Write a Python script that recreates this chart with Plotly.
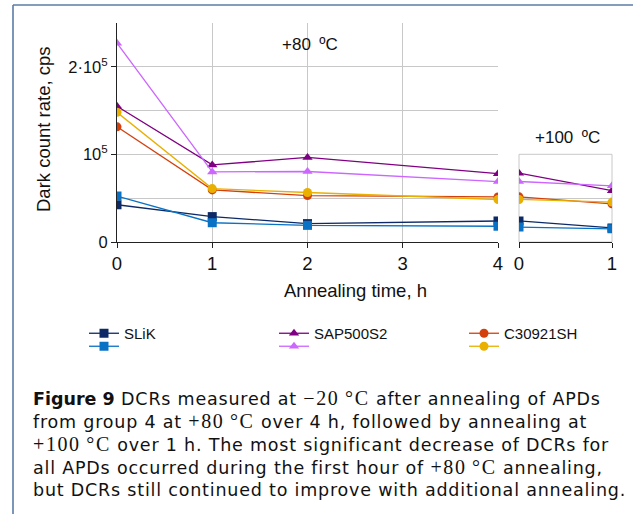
import plotly.graph_objects as go

# ---- data ----
x80 = [0, 1, 2, 4]          # hours at +80 ºC
x100 = [0, 1]               # hours at +100 ºC
series = ["SLiK", "SLiK", "SAP500S2", "SAP500S2", "C30921SH", "C30921SH"]
colors = ["#0d2a66", "#0a72c4", "#7f0082", "#cc66ff", "#d4400c", "#e9b000"]
symbols = ["square", "square", "triangle-up", "triangle-up", "circle", "circle"]
dcr80 = [
    [42500, 29000, 21000, 24000],
    [52500, 22000, 19000, 18000],
    [155000, 88000, 96500, 78000],
    [227000, 80000, 80500, 69000],
    [131500, 59500, 53000, 51500],
    [148000, 61000, 56500, 48500],
]
dcr100 = [
    [24000, 16000],
    [17000, 15000],
    [78500, 58500],
    [69000, 64000],
    [51500, 43500],
    [48500, 45500],
]
ytickvals = [0, 100000, 200000]
yticktext = ["0", "10<sup>5</sup>", "2·10<sup>5</sup>"]

W, H = 633, 514
def px(x):
    return x / W
def py(y):
    return 1 - y / H

fig = go.Figure()
for i in range(6):
    dark = (i % 2 == 0)
    fig.add_trace(go.Scatter(
        x=x80, y=dcr80[i], mode="lines+markers", xaxis="x", yaxis="y",
        line=dict(color=colors[i], width=1.3),
        marker=dict(symbol=symbols[i], size=9, color=colors[i]),
        name=series[i] if dark else " ", legend="legend" if dark else "legend2",
        hovertemplate=series[i] + ": %{y}<extra></extra>",
    ))
for i in range(6):
    fig.add_trace(go.Scatter(
        x=x100, y=dcr100[i], mode="lines+markers", xaxis="x2", yaxis="y2",
        line=dict(color=colors[i], width=1.3),
        marker=dict(symbol=symbols[i], size=9, color=colors[i]),
        showlegend=False,
        hovertemplate=series[i] + ": %{y}<extra></extra>",
    ))

FAM = "Liberation Sans, Arial, sans-serif"
xtf = dict(family=FAM, size=18.5, color="#111")
ytf = dict(family=FAM, size=16.5, color="#111")
ttl = dict(family=FAM, size=18.5, color="#111")
grid = "#c8c8c8"

legcommon = dict(orientation="h", xanchor="left", yanchor="top",
                 entrywidth=145, entrywidthmode="pixels", bgcolor="rgba(0,0,0,0)",
                 font=dict(family=FAM, size=15, color="#111"),
                 itemclick=False, itemdoubleclick=False, borderwidth=0)

fig.update_layout(
    width=W, height=H,
    margin=dict(l=0, r=0, t=0, b=0, autoexpand=False),
    paper_bgcolor="white", plot_bgcolor="white",
    font=dict(family=FAM, size=16, color="#111"),
    xaxis=dict(domain=[px(117), px(498)], range=[0, 4], tickvals=[0, 1, 2, 3, 4],
               showline=True, linecolor="#222", linewidth=1, ticks="outside",
               ticklen=5, tickcolor="#222", showgrid=True, gridcolor=grid,
               zeroline=False, tickfont=xtf, anchor="y"),
    yaxis=dict(domain=[py(242), py(23)], range=[0, 250000], tickvals=ytickvals,
               ticktext=yticktext, showline=True, linecolor="#222", linewidth=1,
               ticks="outside", ticklen=5, tickcolor="#222", showgrid=True,
               gridcolor=grid, zeroline=False, tickfont=ytf, anchor="x",
               minor=dict(tickvals=[50000, 150000], showgrid=True, gridcolor=grid,
                          ticks="")),
    xaxis2=dict(domain=[px(519), px(612)], range=[0, 1], tickvals=[0, 1],
                showline=True, linecolor="#222", linewidth=1, ticks="outside",
                ticklen=5, tickcolor="#222", showgrid=True, gridcolor=grid,
                zeroline=False, tickfont=xtf, anchor="y2"),
    yaxis2=dict(domain=[py(242), py(154.3)], range=[0, 100000],
                tickvals=[50000, 100000], showticklabels=False, showline=False,
                showgrid=True, gridcolor=grid, zeroline=False, anchor="x2"),
    legend=dict(x=px(84), y=py(317), **legcommon),
    legend2=dict(x=px(84), y=py(330), **legcommon),
    showlegend=True,
)

def note(text, x, y, font, **kw):
    d = dict(text=text, x=px(x), y=py(y), xref="paper", yref="paper",
             xanchor="center", yanchor="middle", showarrow=False, font=font)
    d.update(kw)
    return d

ann = []
lab = dict(family=FAM, size=17, color="#111")
ann.append(note("+80\u2002ºC", 310, 44, lab))
ann.append(note("+100\u2002ºC", 567, 138, lab))
ann.append(note("Dark count rate, cps", 43, 129, ttl, textangle=-90))
ann.append(note("Annealing time, h", 355, 290, ttl))

def serif(t):
    return ('<span style="font-family:Liberation Serif;font-size:20px;'
            'letter-spacing:1.6px">' + t + "</span>")
def body(t):
    return '<span style="letter-spacing:0.8px">' + t + "</span>"
cap_lines = [
    "<b>Figure 9</b>" + body(" DCRs measured at ") + serif("−20\u2009°C")
    + body(" after annealing of APDs"),
    body("from group 4 at ") + serif("+80\u2009°C") + body(" over 4 h, followed by annealing at"),
    serif("+100\u2009°C") + body(" over 1 h. The most significant decrease of DCRs for"),
    body("all APDs occurred during the first hour of ") + serif("+80\u2009°C")
    + body(" annealing,"),
    body("but DCRs still continued to improve with additional annealing."),
]
cap_y = [398, 421, 444, 467, 490]
capfont = dict(family="DejaVu Sans, sans-serif", size=17.5, color="#111")
for t, yy in zip(cap_lines, cap_y):
    ann.append(note(t, 31, yy, capfont, xanchor="left", align="left"))
fig.update_layout(annotations=ann)

# grey frame of the +100 ºC panel (its edge grid lines)
fig.add_shape(type="rect", xref="x2 domain", yref="y2 domain", x0=0, x1=1, y0=0, y1=1,
              line=dict(color=grid, width=1), fillcolor="rgba(0,0,0,0)", layer="below")

fig.add_shape(type="line", xref="paper", yref="paper", x0=px(13), x1=px(640),
              y0=py(5), y1=py(5), line=dict(color="#5b7ca6", width=1.6))
fig.add_shape(type="line", xref="paper", yref="paper", x0=px(13), x1=px(13),
              y0=py(5), y1=py(520), line=dict(color="#5b7ca6", width=1.6))

fig.write_html("out.html", config={"displayModeBar": False},
               post_script="document.body.style.margin='0';")
